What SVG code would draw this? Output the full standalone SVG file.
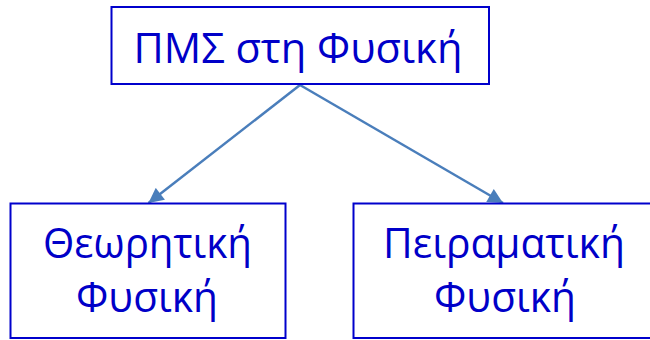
<svg xmlns="http://www.w3.org/2000/svg" width="650" height="340" viewBox="0 0 650 340">
<style>
.box{fill:#ffffff;stroke:#0000cc;stroke-width:2}
.lbl{font-family:"Open Sans","Noto Sans","DejaVu Sans",sans-serif;font-size:42px;fill:#0000c8;text-anchor:middle}
.conn{stroke:#4a7ebb;stroke-width:2.5;fill:none}
</style>
<defs>
<marker id="arr" viewBox="0 0 10 10" refX="10" refY="5" markerWidth="6.5" markerHeight="6" markerUnits="strokeWidth" orient="auto">
<path d="M0,0 L10,5 L0,10 z" fill="#4a7ebb"/>
</marker>
</defs>
<rect width="650" height="340" fill="#ffffff"/>
<g id="connectors">
<line class="conn" x1="300" y1="85" x2="148.5" y2="203" marker-end="url(#arr)"/>
<line class="conn" x1="300" y1="85" x2="503" y2="203" marker-end="url(#arr)"/>
</g>
<g id="node-top">
<rect class="box" x="111.5" y="7" width="377.5" height="77"/>
<text class="lbl" x="298" y="63" textLength="329" lengthAdjust="spacingAndGlyphs">ΠΜΣ στη Φυσική</text>
</g>
<g id="node-left">
<rect class="box" x="10.5" y="203.5" width="275" height="134.5"/>
<text class="lbl" x="147.5" y="258" textLength="209" lengthAdjust="spacingAndGlyphs">Θεωρητική</text>
<text class="lbl" x="147" y="312" textLength="142" lengthAdjust="spacingAndGlyphs">Φυσική</text>
</g>
<g id="node-right">
<rect class="box" x="353.5" y="203.5" width="310" height="134.5"/>
<text class="lbl" x="504" y="258" textLength="242" lengthAdjust="spacingAndGlyphs">Πειραματική</text>
<text class="lbl" x="505" y="312" textLength="142" lengthAdjust="spacingAndGlyphs">Φυσική</text>
</g>
</svg>
